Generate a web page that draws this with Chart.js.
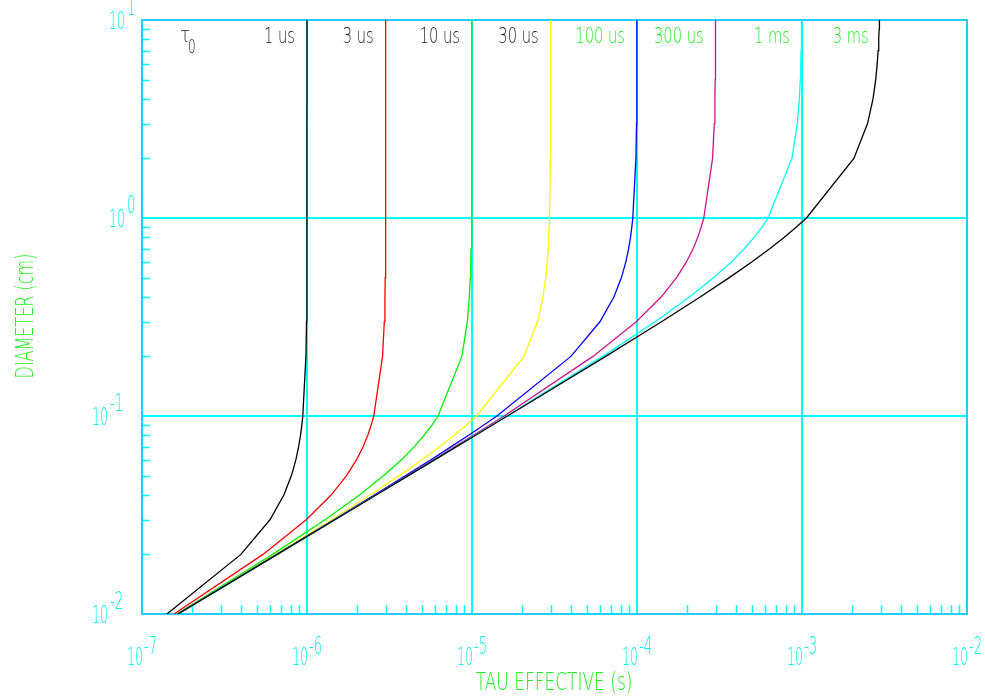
<!DOCTYPE html>
<html>
<head>
<meta charset="utf-8">
<script src="https://cdn.jsdelivr.net/npm/chart.js@4/dist/chart.umd.min.js"></script>
<style>
  html, body { margin: 0; padding: 0; background: #fff; }
  #plot { display: block; }
</style>
</head>
<body>
<canvas id="plot" width="985" height="696"></canvas>
<script>
// diameter samples (cm)
const diameters = [0.01, 0.02, 0.03, 0.04, 0.05, 0.06, 0.07, 0.08, 0.09,
                   0.1, 0.2, 0.3, 0.4, 0.5, 0.6, 0.7, 0.8, 0.9,
                   1, 2, 3, 4, 5, 6, 7, 8, 9, 10];

// bulk lifetimes and their labels
const tau0Values = [1e-6, 3e-6, 1e-5, 3e-5, 1e-4, 3e-4, 1e-3, 3e-3];
const tau0Labels = ['1 us', '3 us', '10 us', '30 us', '100 us', '300 us', '1 ms', '3 ms'];

// effective lifetime in microseconds, one entry per diameter
const tauEff1us = [0.1416, 0.3976, 0.5976, 0.7253, 0.8049, 0.8559, 0.8899, 0.9135, 0.9304,
                   0.9429, 0.9851, 0.9933, 0.9962, 0.9976, 0.9983, 0.9988, 0.9990, 0.9993,
                   0.9994, 0.9998, 0.9999, 1.0, 1.0, 1.0, 1.0, 1.0, 1.0, 1.0];
const tauEff3us = [0.1564, 0.5410, 0.9933, 1.404, 1.737, 1.993, 2.188, 2.336, 2.450,
                   2.539, 2.870, 2.941, 2.966, 2.978, 2.985, 2.989, 2.992, 2.993,
                   2.995, 2.999, 2.999, 3.0, 3.0, 3.0, 3.0, 3.0, 3.0, 3.0];
const tauEff10us = [0.1623, 0.6191, 1.293, 2.089, 2.920, 3.727, 4.471, 5.136, 5.720,
                    6.226, 8.684, 9.369, 9.635, 9.763, 9.834, 9.878, 9.906, 9.926,
                    9.940, 9.985, 9.993, 9.996, 9.998, 9.998, 9.999, 9.999, 9.999, 9.999];
const tauEff30us = [0.1641, 0.6458, 1.415, 2.427, 3.626, 4.958, 6.369, 7.811, 9.246,
                    10.65, 20.63, 24.96, 26.94, 27.97, 28.56, 28.93, 29.17, 29.34,
                    29.46, 29.86, 29.94, 29.97, 29.98, 29.99, 29.99, 29.99, 29.99, 29.99];
const tauEff100us = [0.1647, 0.6557, 1.463, 2.572, 3.962, 5.607, 7.480, 9.551, 11.79,
                     14.16, 39.76, 59.76, 72.53, 80.49, 85.59, 88.99, 91.35, 93.04,
                     94.29, 98.51, 99.33, 99.62, 99.76, 99.83, 99.88, 99.91, 99.93, 99.94];
const tauEff300us = [0.1649, 0.6586, 1.478, 2.617, 4.069, 5.825, 7.873, 10.20, 12.80,
                     15.64, 54.10, 99.33, 140.4, 173.7, 199.3, 218.8, 233.6, 245.0,
                     253.9, 287.0, 294.1, 296.6, 297.8, 298.5, 298.9, 299.2, 299.3, 299.5];
const tauEff1ms = [0.1650, 0.6596, 1.483, 2.633, 4.108, 5.905, 8.020, 10.45, 13.19,
                   16.23, 61.91, 129.3, 208.9, 292.0, 372.7, 447.1, 513.6, 572.0,
                   622.6, 868.4, 936.9, 963.5, 976.3, 983.4, 987.8, 990.6, 992.6, 994.0];
const tauEff3ms = [0.1650, 0.6599, 1.484, 2.638, 4.119, 5.928, 8.063, 10.52, 13.31,
                   16.41, 64.58, 141.5, 242.7, 362.6, 495.8, 636.9, 781.1, 924.6,
                   1064.5, 2062.5, 2495.8, 2693.9, 2796.6, 2855.8, 2892.7, 2917.1, 2934.1, 2946.4];

const allSeries = [tauEff1us, tauEff3us, tauEff10us, tauEff30us,
                   tauEff100us, tauEff300us, tauEff1ms, tauEff3ms];

// axis decades (exponents) and minor steps inside each decade
const xTickExps = [-7, -6, -5, -4, -3, -2];
const yTickExps = [-2, -1, 0, 1];
const minorSteps = [2, 3, 4, 5, 6, 7, 8, 9];

const lineColors = ['#000000', '#ff0000', '#00ee00', '#ffff00',
                    '#0000ff', '#c8148c', '#00ffff', '#000000'];
const labelColors = ['#222', '#222', '#222', '#222', '#22ee22', '#22ee22', '#22ee22', '#22ee22'];

const GRID = '#00ffff';
const FRAME = '#22ccff';
const TICKTXT = '#00f0f0';
const TITLE = '#22ee22';
// thin, squeezed sans to look like a plotter stroke font
const FONT = '200 SIZEpx "DejaVu Sans", "Liberation Sans", sans-serif';

function drawText(ctx, str, x, y, size, color, align, squeeze) {
    ctx.save();
    ctx.font = FONT.replace('SIZE', size);
    ctx.fillStyle = color;
    ctx.textBaseline = 'alphabetic';
    ctx.textAlign = 'left';
    const w = ctx.measureText(str).width * squeeze;
    let left = x;
    if (align === 'right') left = x - w;
    if (align === 'center') left = x - w / 2;
    ctx.translate(left, y);
    ctx.scale(squeeze, 1);
    ctx.fillText(str, 0, 0);
    ctx.restore();
    return w;
}

const datasets = allSeries.map((series, i) => ({
    label: tau0Labels[i],
    data: series.map((t, j) => ({ x: t * 1e-6, y: diameters[j] })),
    showLine: true,
    borderColor: lineColors[i],
    borderWidth: 1.3,
    pointRadius: 0,
    tension: 0,
    order: -i
}));

// frame + minor tick marks under the curves, text on top
const framePlugin = {
    id: 'frame',
    beforeDatasetsDraw(chart) {
        const { ctx, chartArea: a, scales: { x, y } } = chart;
        ctx.save();
        ctx.strokeStyle = GRID;
        ctx.lineWidth = 1.5;
        ctx.beginPath();
        xTickExps.slice(0, -1).forEach(e => {
            minorSteps.forEach(m => {
                const px = Math.round(x.getPixelForValue(m * Math.pow(10, e))) + 0.5;
                ctx.moveTo(px, a.bottom);
                ctx.lineTo(px, a.bottom - 9);
            });
        });
        yTickExps.slice(0, -1).forEach(e => {
            minorSteps.forEach(m => {
                const py = Math.round(y.getPixelForValue(m * Math.pow(10, e))) + 0.5;
                ctx.moveTo(a.left, py);
                ctx.lineTo(a.left + 8, py);
            });
        });
        ctx.stroke();
        ctx.strokeStyle = FRAME;
        ctx.lineWidth = 2;
        ctx.strokeRect(a.left, a.top, a.right - a.left, a.bottom - a.top);
        ctx.restore();
    },
    afterDraw(chart) {
        const { ctx, chartArea: a, scales: { x, y } } = chart;

        // x decade labels: 10 with exponent
        xTickExps.forEach(e => {
            const px = x.getPixelForValue(Math.pow(10, e));
            drawText(ctx, '10', px + 1, a.bottom + 51, 24, TICKTXT, 'right', 0.52);
            drawText(ctx, String(e), px + 2, a.bottom + 40, 24, TICKTXT, 'left', 0.55);
        });
        // y decade labels
        yTickExps.forEach(e => {
            const py = y.getPixelForValue(Math.pow(10, e));
            const exp = String(e);
            const right = a.left + 17 - 17 * (exp.length + 1);
            drawText(ctx, '10', right, py + 9, 24, TICKTXT, 'right', 0.52);
            drawText(ctx, exp, right + 2, py - 5, 24, TICKTXT, 'left', 0.55);
        });

        // axis titles
        drawText(ctx, 'TAU EFFECTIVE (s)', 554, 690, 25, TITLE, 'center', 0.68);
        ctx.save();
        ctx.translate(33, 316);
        ctx.rotate(-Math.PI / 2);
        drawText(ctx, 'DIAMETER (cm)', 0, 0, 25, TITLE, 'center', 0.64);
        ctx.restore();

        // curve labels along the top
        drawText(ctx, '\u03c4', a.left + 38, a.top + 22, 21, '#222', 'left', 0.8);
        drawText(ctx, '0', a.left + 46, a.top + 33, 20, '#222', 'left', 0.6);
        tau0Values.forEach((t, i) => {
            const px = x.getPixelForValue(t);
            drawText(ctx, tau0Labels[i], px - 12, a.top + 23, 21, labelColors[i], 'right', 0.7);
        });
    }
};

new Chart(document.getElementById('plot').getContext('2d'), {
    type: 'scatter',
    data: { datasets },
    options: {
        responsive: false,
        animation: false,
        devicePixelRatio: 1,
        layout: { padding: { top: 20, right: 18, left: 0, bottom: 0 } },
        plugins: { legend: { display: false }, tooltip: { enabled: false } },
        scales: {
            x: {
                type: 'logarithmic',
                min: 1e-7,
                max: 1e-2,
                afterBuildTicks: s => { s.ticks = xTickExps.map(e => ({ value: Math.pow(10, e) })); },
                afterFit: s => { s.height = 82; },
                ticks: { display: false },
                grid: { color: GRID, lineWidth: 2, drawTicks: false },
                border: { display: false }
            },
            y: {
                type: 'logarithmic',
                min: 1e-2,
                max: 10,
                afterBuildTicks: s => { s.ticks = yTickExps.map(e => ({ value: Math.pow(10, e) })); },
                afterFit: s => { s.width = 142; },
                ticks: { display: false },
                grid: { color: GRID, lineWidth: 2, drawTicks: false },
                border: { display: false }
            }
        }
    },
    plugins: [framePlugin]
});
</script>
</body>
</html>
